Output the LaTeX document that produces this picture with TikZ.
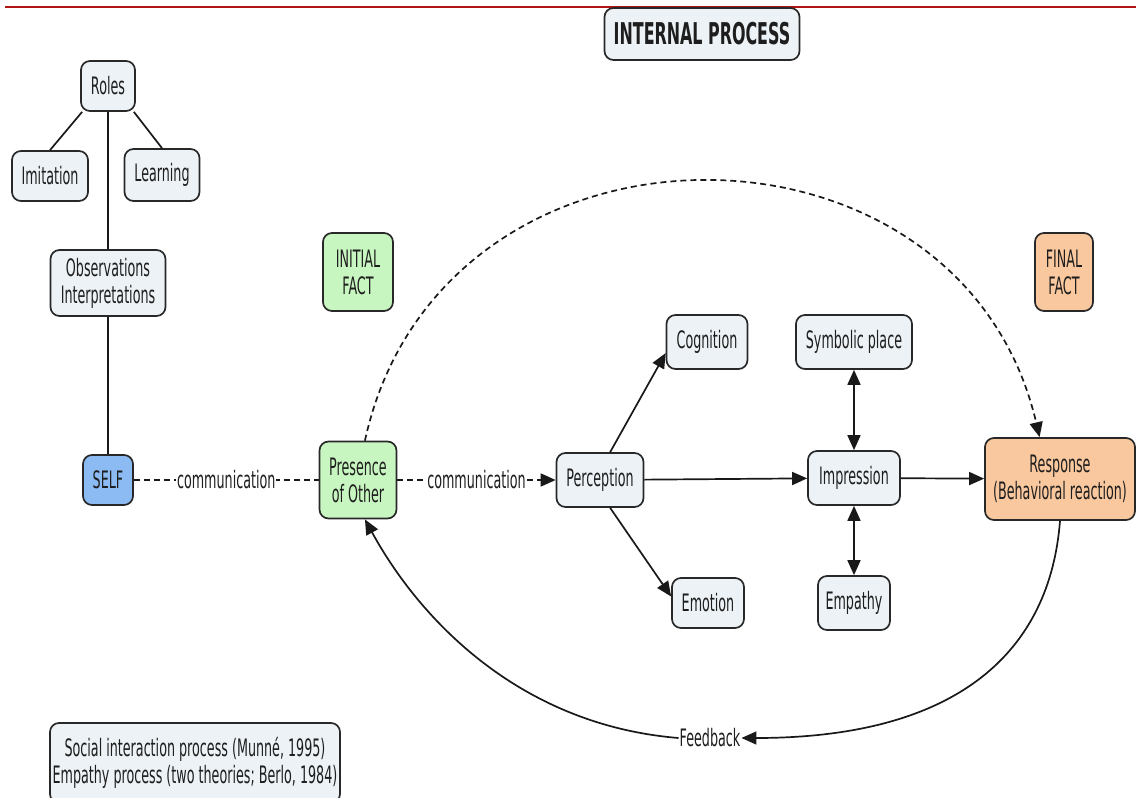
\documentclass[tikz,border=0pt]{standalone}
\usepackage{fontspec}
\setmainfont{DejaVu Sans}[FakeStretch=0.53]
\usetikzlibrary{arrows.meta,calc}

\definecolor{boxfill}{RGB}{236,242,245}
\definecolor{boxline}{RGB}{40,40,40}
\definecolor{greenfill}{RGB}{200,246,192}
\definecolor{orangefill}{RGB}{250,200,158}
\definecolor{bluefill}{RGB}{140,186,242}
\definecolor{rulered}{RGB}{176,20,20}
\definecolor{inktext}{RGB}{30,30,30}

\tikzset{
  concept/.style={draw=boxline, line width=1.7pt, rounded corners=9pt, fill=boxfill,
    align=center, inner sep=0pt, text=inktext,
    font=\fontsize{24}{27}\selectfont},
  greenbox/.style={concept, fill=greenfill},
  orangebox/.style={concept, fill=orangefill},
  bluebox/.style={concept, fill=bluefill},
  link/.style={line width=1.7pt, draw=black!90},
  arrowlink/.style={link, -{Triangle[length=15pt,width=13pt]}},
  twoway/.style={link, {Triangle[length=15pt,width=13pt]}-{Triangle[length=15pt,width=13pt]}},
  dashlink/.style={link, dashed, dash pattern=on 6pt off 4pt},
  lbl/.style={fill=white, inner sep=1pt, text=inktext, font=\fontsize{24}{27}\selectfont},
}

\begin{document}
\begin{tikzpicture}[x=1pt, y=-1pt]
  \useasboundingbox (0,0) rectangle (1136,798);
  \clip (0,0) rectangle (1136,798);

  % header rule
  \draw[rulered, line width=2pt] (5,7) -- (1136,7);

  % title
  \node[concept, minimum width=195pt, minimum height=52pt,
        font=\fontsize{30}{33}\selectfont\bfseries] (title) at (702,34) {INTERNAL PROCESS};

  % self-formation branch
  \node[concept, minimum width=54pt, minimum height=50pt] (roles) at (108,86) {Roles};
  \node[concept, minimum width=76pt, minimum height=50pt] (imit) at (50,176) {Imitation};
  \node[concept, minimum width=75pt, minimum height=52pt] (learn) at (162,175) {Learning};
  \node[concept, minimum width=115pt, minimum height=66pt] (obs) at (108,283) {Observations\\Interpretations};
  \node[bluebox, minimum width=50pt, minimum height=50pt] (self) at (108,480) {SELF};

  % facts
  \node[greenbox, minimum width=70pt, minimum height=78pt] (initial) at (358,272) {INITIAL\\FACT};
  \node[orangebox, minimum width=58pt, minimum height=78pt] (final) at (1064,272) {FINAL\\FACT};

  % main chain
  \node[greenbox, minimum width=77pt, minimum height=77pt] (pres) at (358,480) {Presence\\of Other};
  \node[concept, minimum width=87pt, minimum height=54pt] (perc) at (600,480) {Perception};
  \node[concept, minimum width=81pt, minimum height=54pt] (cog) at (707,342) {Cognition};
  \node[concept, minimum width=72pt, minimum height=50pt] (emo) at (708,603) {Emotion};
  \node[concept, minimum width=92pt, minimum height=54pt] (impr) at (854,478) {Impression};
  \node[concept, minimum width=116pt, minimum height=54pt] (symb) at (854,342) {Symbolic place};
  \node[concept, minimum width=72pt, minimum height=54pt] (emp) at (854,603) {Empathy};
  \node[orangebox, minimum width=150pt, minimum height=82pt] (resp) at (1060,479) {Response\\(Behavioral reaction)};

  % source note
  \node[concept, minimum width=290pt, minimum height=80pt] (note) at (195,763)
    {Social interaction process (Munné, 1995)\\Empathy process (two theories; Berlo, 1984)};

  % feedback label
  \node[inner sep=1pt, text=inktext, font=\fontsize{24}{27}\selectfont] (fb) at (710,738) {Feedback};

  % tree links
  \draw[link] (roles.225) -- (imit.north);
  \draw[link] (roles.-45) -- (learn.north);
  \draw[link] (roles) -- (obs);
  \draw[link] (obs) -- (self);

  % communication links
  \draw[dashlink] (self) -- node[lbl] {communication} (pres);
  \draw[dashlink, -{Triangle[length=15pt,width=13pt]}] (pres) -- node[lbl] {communication} (perc);

  % perception outputs
  \draw[arrowlink] (perc.70) -- (cog.195);
  \draw[arrowlink] (perc.290) -- (emo.170);
  \draw[arrowlink] (perc) -- (impr);
  \draw[twoway] (symb) -- (impr);
  \draw[twoway] (emp) -- (impr);
  \draw[arrowlink] (impr) -- (resp);

  % dashed arc from presence to response
  \draw[dashlink, -{Triangle[length=15pt,width=13pt]}]
    (pres.80) .. controls (440,96) and (960,96) .. (resp.116);

  % feedback loop
  \draw[arrowlink] (resp.south) .. controls (1050,650) and (960,738) .. (fb.east);
  \draw[arrowlink] (fb.west) .. controls (520,725) and (420,620) .. (pres.280);
\end{tikzpicture}
\end{document}
